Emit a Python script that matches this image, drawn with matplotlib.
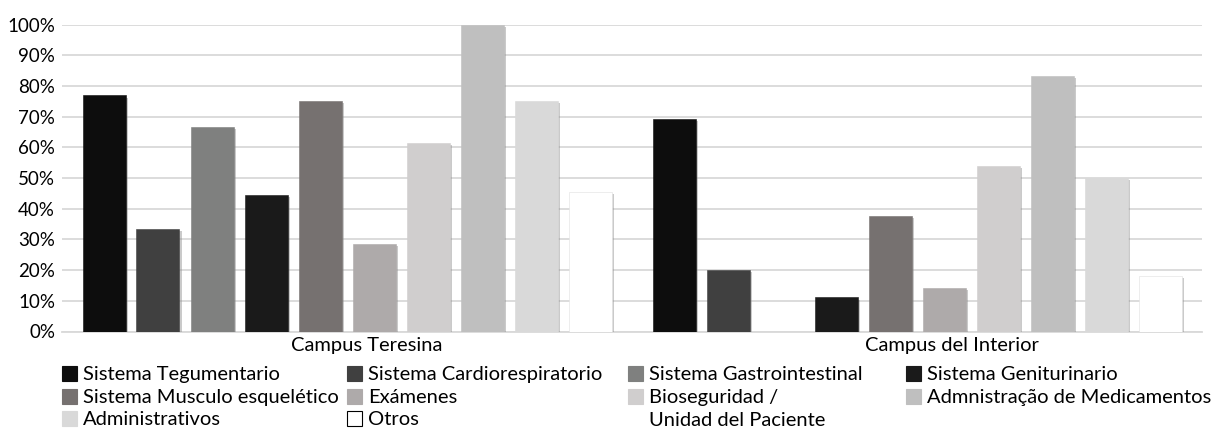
import matplotlib
matplotlib.use("Agg")
import matplotlib.pyplot as plt
import matplotlib.patheffects as pe
from matplotlib.patches import Rectangle
from matplotlib.ticker import PercentFormatter

# ==========================================
# DATA
# ==========================================

campuses = ["Campus Teresina", "Campus del Interior"]

series = [
    "Sistema Tegumentario",
    "Sistema Cardiorespiratorio",
    "Sistema Gastrointestinal",
    "Sistema Geniturinario",
    "Sistema Musculo esquelético",
    "Exámenes",
    "Bioseguridad /\nUnidad del Paciente",
    "Admnistração de Medicamentos",
    "Administrativos",
    "Otros",
]

teresina = [76.9, 33.3, 66.7, 44.4, 75.0, 28.6, 61.5, 100.0, 75.0, 45.5]
interior = [69.2, 20.0, 0.0, 11.1, 37.5, 14.3, 53.8, 83.3, 50.0, 18.2]

colors = ["#0d0d0d", "#404040", "#7f807f", "#1a1a1a", "#767170",
          "#aeaaaa", "#d0cece", "#bfbfbf", "#d9d9d9", "#ffffff"]

# ==========================================
# PLOT
# ==========================================

W, H = 1221, 428
plt.rcParams['font.family'] = ['Lato', 'DejaVu Sans']

fig = plt.figure(figsize=(W / 100, H / 100), dpi=100)
ax = fig.add_axes([62 / W, 1 - 331.5 / H, 1140 / W, 307 / H])

step = 54 / 570
width = 43 / 570
shadow = [pe.SimplePatchShadow(offset=(1.5, -1.5), shadow_rgbFace="#8a8a8a", alpha=0.45),
          pe.Normal()]

for i, name in enumerate(series):
    vals = [teresina[i], interior[i]]
    xs = [g + (i - 4.5) * step for g in range(len(campuses))]
    bars = ax.bar(xs, vals, width=width, color=colors[i], zorder=3,
                  edgecolor="#e0e0e0" if colors[i] == "#ffffff" else colors[i],
                  linewidth=0.4)
    for b in bars:
        if b.get_height() > 0:
            b.set_path_effects(shadow)

ax.set_xlim(-0.5, 1.5)
ax.set_ylim(0, 100)
ax.set_yticks(range(0, 101, 10))
ax.yaxis.set_major_formatter(PercentFormatter(decimals=0))
ax.set_xticks([])
ax.tick_params(axis="both", length=0, labelsize=13.5, colors="#000000")
ax.tick_params(axis="y", pad=5)
ax.yaxis.grid(True, color="#d9d9d9", linewidth=1.3, zorder=0)
ax.set_axisbelow(True)
for s in ["top", "right", "left"]:
    ax.spines[s].set_visible(False)
ax.spines["bottom"].set_color("#d9d9d9")
ax.spines["bottom"].set_linewidth(1.3)

# campus labels (sit a bit right of the groups, as in the original)
for name, cx in zip(campuses, [366.5, 952]):
    fig.text(cx / W, 1 - 345 / H, name, fontsize=14.5, ha="center", va="center")

# legend, 4 columns filled row by row
col_x = [62, 347, 628, 906]
row_y = [373, 396, 418]
for i, name in enumerate(series):
    r, c = divmod(i, 4)
    x0, y0 = col_x[c], row_y[r]
    fig.patches.append(Rectangle((x0 / W, 1 - (y0 + 7.5) / H), 15 / W, 15 / H,
                                 transform=fig.transFigure, facecolor=colors[i],
                                 edgecolor="#000000" if colors[i] == "#ffffff" else colors[i],
                                 linewidth=0.8))
    lines = name.split("\n")
    for k, line in enumerate(lines):
        fig.text((x0 + 21) / W, 1 - (y0 + k * 22.5) / H, line, fontsize=14.5,
                 ha="left", va="center_baseline")

fig.savefig("out.png", dpi=100)
